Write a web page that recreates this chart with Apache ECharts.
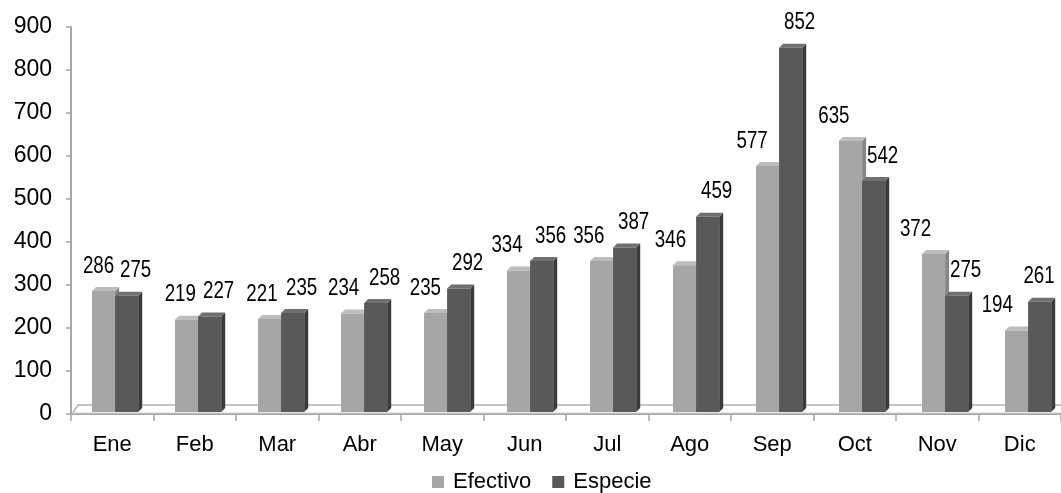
<!DOCTYPE html>
<html>
<head>
<meta charset="utf-8">
<script src="https://cdn.jsdelivr.net/npm/echarts@6/dist/echarts.min.js"></script>
<style>html,body{margin:0;padding:0;background:#fff;}#c{width:1061px;height:493px;}</style>
</head>
<body>
<div id="c"></div>
<script>
var categories = ['Ene','Feb','Mar','Abr','May','Jun','Jul','Ago','Sep','Oct','Nov','Dic'];
var efectivo = [286,219,221,234,235,334,356,346,577,635,372,194];
var especie = [275,227,235,258,292,356,387,459,852,542,275,261];
var yTicks = [0,100,200,300,400,500,600,700,800,900];

var FONT = '"Liberation Sans", Arial, sans-serif';
var chart = echarts.init(document.getElementById('c'));

function barRenderer(seriesIdx, faces) {
  return function (params, api) {
    var i = api.value(0), v = api.value(1);
    var base = api.coord([i, 0]);
    var top = api.coord([i, v]);
    var band = api.size([1, 0])[0];
    var w = band * 0.28;
    // slight perspective drift of the 3D bars
    var lightLeft = base[0] - band * 0.2455 + 0.5 * i;
    var left = seriesIdx === 0 ? lightLeft : lightLeft + w;
    var yb = base[1] - 2;
    var yt = top[1];
    var d = 4;
    var lx = left + w / 2 + (seriesIdx === 0 ? (-5 - 1.3 * i) : 9);
    lx = Math.min(lx, api.getWidth() - 22);
    var children = [
      {type:'polygon', shape:{points:[[left+w,yt],[left+w+d,yt-d],[left+w+d,yb-d],[left+w,yb]]}, style:{fill:faces.side}},
      {type:'polygon', shape:{points:[[left,yt],[left+d,yt-d],[left+w+d,yt-d],[left+w,yt]]}, style:{fill:faces.top}},
      {type:'rect', shape:{x:left, y:yt, width:w, height:yb-yt}, style:{fill:faces.front}},
      {type:'text', x: lx, y: yt - 25, scaleX: 0.78, scaleY: 1,
        style:{text:String(v), x:0, y:0, align:'center', verticalAlign:'middle', font:'24px ' + FONT, fill:'#000'}}
    ];
    return {type:'group', children:children};
  };
}

function floorRenderer(params, api) {
  var a = api.coord([0, 0]);
  var band = api.size([1, 0])[0];
  var x0 = a[0] - band/2 + 1;
  var x1 = api.coord([categories.length - 1, 0])[0] + band/2;
  var y0 = a[1];
  return {type:'group', children:[
    {type:'polyline', shape:{points:[[x0,y0],[x0+6,y0-9],[x1,y0-9]]}, style:{stroke:'#b3b3b3', lineWidth:1.5, fill:null}},
    {type:'line', shape:{x1:x0, y1:y0-1, x2:x1, y2:y0-1}, style:{stroke:'#cfcfcf', lineWidth:1}}
  ]};
}

var option = {
  backgroundColor: '#fff',
  animation: false,
  grid: {left: 71, right: 0, top: 27, bottom: 79, containLabel: false},
  legend: {
    data: ['Efectivo','Especie'],
    top: 471,
    left: 432,
    padding: 0,
    icon: 'rect',
    itemWidth: 12,
    itemHeight: 12,
    itemGap: 21,
    textStyle: {fontFamily: FONT, fontSize: 22, color:'#000', padding:[0,0,0,4]}
  },
  xAxis: {
    type: 'category',
    data: categories,
    axisLine: {lineStyle:{color:'#a6a6a6', width:2}},
    axisTick: {show:true, length:7, lineStyle:{color:'#a6a6a6', width:1.5}},
    axisLabel: {fontFamily: FONT, fontSize:22, color:'#000', margin:20}
  },
  yAxis: {
    type: 'value',
    min: 0, max: 900, interval: 100,
    axisLine: {show:true, lineStyle:{color:'#a6a6a6', width:2}},
    axisTick: {show:true, length:5, lineStyle:{color:'#a6a6a6', width:1.5}},
    splitLine: {show:false},
    axisLabel: {fontFamily: FONT, fontSize:23, color:'#000', margin:19, padding:[6,0,0,0],
      formatter: function(v){ return yTicks.indexOf(v) >= 0 ? String(v) : ''; }}
  },
  series: [
    {type:'custom', name:'floor', silent:true, renderItem: floorRenderer, data:[[0,0]], z:1},
    {type:'custom', name:'Efectivo', itemStyle:{color:'#a6a6a6'}, renderItem: barRenderer(0,{front:'#a6a6a6', side:'#868686', top:'#bdbdbd'}),
      data: efectivo.map(function(v,i){return [i,v];}), z:2},
    {type:'custom', name:'Especie', itemStyle:{color:'#595959'}, renderItem: barRenderer(1,{front:'#595959', side:'#3a3a3a', top:'#707070'}),
      data: especie.map(function(v,i){return [i,v];}), z:3}
  ]
};
chart.setOption(option);
</script>
</body>
</html>
